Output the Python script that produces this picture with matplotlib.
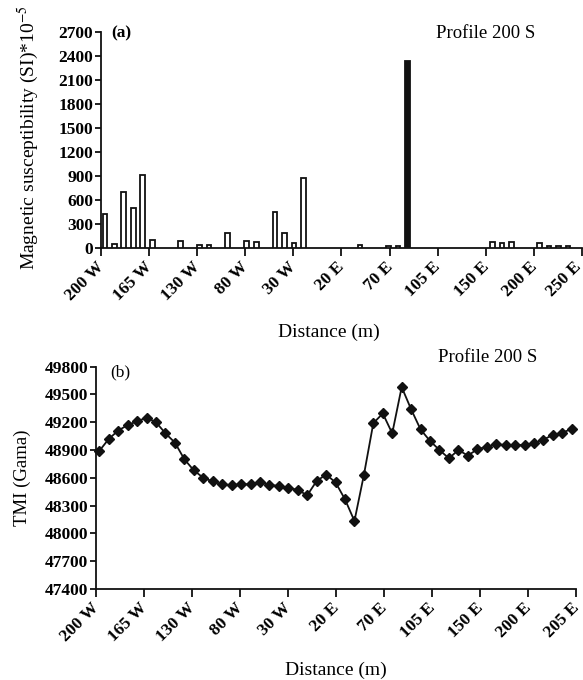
import matplotlib
matplotlib.use("Agg")
import matplotlib.pyplot as plt
import matplotlib.transforms as mtransforms
import numpy as np

# ---------------- data ----------------
top_tick_labels = ['200 W', '165 W', '130 W', '80 W', '30 W', '20 E', '70 E',
                   '105 E', '150 E', '200 E', '250 E']
bottom_tick_labels = ['200 W', '165 W', '130 W', '80 W', '30 W', '20 E', '70 E',
                      '105 E', '150 E', '200 E', '205 E']

# magnetic susceptibility per station (51 stations)
susceptibility = [420, 50, 700, 500, 910, 100, 0, 0, 80, 0,
                  30, 30, 0, 180, 0, 80, 70, 0, 445, 190,
                  55, 870, 0, 0, 0, 0, 0, 30, 0, 0,
                  20, 20, 2330, 0, 0, 0, 0, 0, 0, 0,
                  0, 70, 55, 70, 0, 0, 55, 20, 20, 20,
                  0]
filled_station = [32]

# total magnetic intensity per station (51 stations)
tmi = [48890, 49020, 49110, 49170, 49210, 49250, 49200, 49080, 48980, 48800,
       48680, 48600, 48560, 48530, 48520, 48530, 48530, 48550, 48525, 48510,
       48490, 48470, 48410, 48565, 48635, 48550, 48367, 48133, 48630, 49190,
       49295, 49080, 49580, 49340, 49122, 48998, 48900, 48810, 48900, 48840,
       48907, 48936, 48960, 48955, 48954, 48954, 48972, 49013, 49062, 49088,
       49127]

# ---------------- style ----------------
plt.rcParams['font.family'] = ['Liberation Serif', 'DejaVu Serif']
plt.rcParams['mathtext.fontset'] = 'stix'
ink = '#111111'

fig = plt.figure(figsize=(5.83, 6.8), dpi=100)

def shifted(px):
    return mtransforms.ScaledTranslation(px / 100, 0, fig.dpi_scale_trans)

def style_axes(ax, labels, last_extra=0):
    for s in ['top', 'right']:
        ax.spines[s].set_visible(False)
    for s in ['left', 'bottom']:
        ax.spines[s].set_linewidth(1.3)
        ax.spines[s].set_color(ink)
    ax.tick_params(axis='x', length=6, width=1.3, color=ink, pad=2)
    ax.tick_params(axis='y', length=4.5, width=1.3, color=ink, pad=1)
    ax.set_xticklabels(labels, rotation=45, ha='right', va='top',
                       rotation_mode='anchor', fontsize=12.5, fontweight='bold')
    xt = ax.get_xticklabels()
    for i, lab in enumerate(xt):
        dx = -5 + (last_extra if i == len(xt) - 1 else 0)
        lab.set_transform(lab.get_transform() + shifted(dx))
    for lab in ax.get_yticklabels():
        lab.set_fontsize(12.5)
        lab.set_fontweight('bold')

# ---------------- top panel ----------------
ax1 = fig.add_axes([0.1732, 0.6357, 0.8251, 0.3176])
x1 = np.arange(len(susceptibility))
faces = ['white'] * len(susceptibility)
for i in filled_station:
    faces[i] = ink
bars = ax1.bar(x1, susceptibility, width=0.5, color=faces, edgecolor=ink,
               linewidth=1.3, zorder=3)
for b, v in zip(bars, susceptibility):
    if v == 0:
        b.set_visible(False)
xl1 = (-0.42, 50.48)
ax1.set_xlim(*xl1)
ax1.set_ylim(0, 2700)
ax1.set_yticks(np.arange(0, 2701, 300))
ax1.set_xticks(np.linspace(xl1[0], xl1[1], len(top_tick_labels)))
style_axes(ax1, top_tick_labels, last_extra=-4)
ax1.set_ylabel(r'Magnetic susceptibility (SI)*10$^{-5}$', fontsize=14)
ax1.yaxis.set_label_coords(-0.125, 0.508)
ax1.set_xlabel('Distance (m)', fontsize=14)
ax1.xaxis.set_label_coords(0.474, -0.35)
ax1.text(0.022, 0.994, '(a)', transform=ax1.transAxes, fontsize=12.5,
         fontweight='bold', ha='left', va='center')
ax1.text(0.80, 0.99, 'Profile 200 S', transform=ax1.transAxes, fontsize=13.5,
         ha='center', va='center')

# ---------------- bottom panel ----------------
ax2 = fig.add_axes([0.1647, 0.1341, 0.8233, 0.3266])
x2 = np.arange(len(tmi))
ax2.plot(x2, tmi, color=ink, linewidth=1.3, marker='D', markersize=5,
         markerfacecolor=ink, markeredgecolor=ink, zorder=3, clip_on=False)
xl2 = (-0.35, 50.45)
ax2.set_xlim(*xl2)
ax2.set_ylim(47400, 49800)
ax2.set_yticks(np.arange(47400, 49801, 300))
ax2.set_xticks(np.linspace(xl2[0], xl2[1], len(bottom_tick_labels)))
style_axes(ax2, bottom_tick_labels)
ax2.set_ylabel('TMI (Gama)', fontsize=13.5)
ax2.yaxis.set_label_coords(-0.136, 0.499)
ax2.set_xlabel('Distance (m)', fontsize=14)
ax2.xaxis.set_label_coords(0.5, -0.327)
ax2.text(0.029, 0.976, '(b)', transform=ax2.transAxes, fontsize=12.5,
         ha='left', va='center')
ax2.text(0.815, 1.04, 'Profile 200 S', transform=ax2.transAxes, fontsize=13.5,
         ha='center', va='center')

fig.savefig('out.png', dpi=100)
